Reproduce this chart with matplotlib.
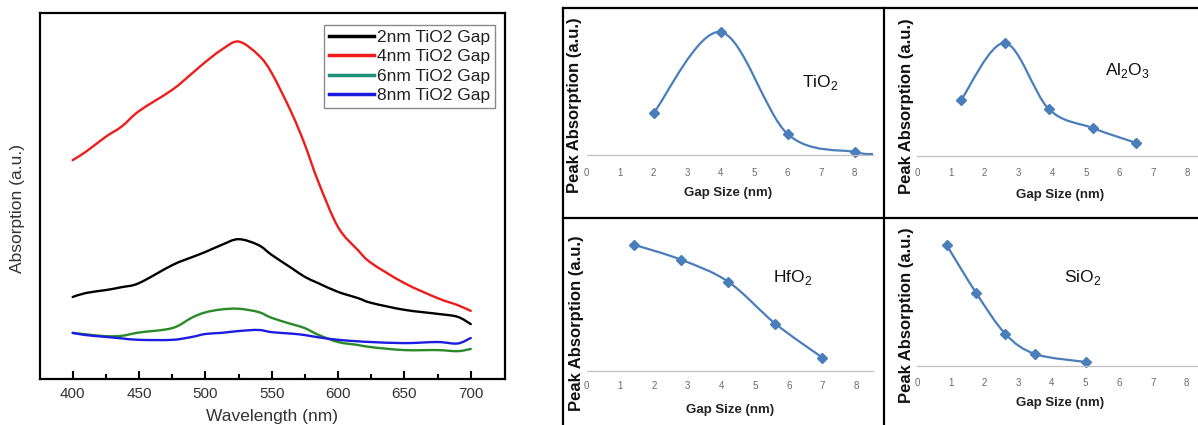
import numpy as np
import matplotlib
matplotlib.use("Agg")
import matplotlib.pyplot as plt
from matplotlib.path import Path
from matplotlib.patches import PathPatch
from matplotlib.lines import Line2D

plt.rcParams["font.family"] = ["Liberation Sans", "DejaVu Sans"]
plt.rcParams["mathtext.fontset"] = "custom"
plt.rcParams["mathtext.rm"] = "Liberation Sans"

W, H = 1198, 425

# ---- left panel: absorption spectra (a.u.) ----
wavelength = [400, 410, 425, 437, 450, 475, 490, 500, 512, 525, 540, 550, 565,
              575, 585, 600, 615, 625, 650, 675, 690, 700]
abs_2nm = [0.224, 0.235, 0.243, 0.251, 0.262, 0.311, 0.333, 0.347, 0.366, 0.382,
           0.366, 0.339, 0.303, 0.279, 0.262, 0.238, 0.221, 0.208, 0.189, 0.178,
           0.170, 0.150]
abs_4nm = [0.598, 0.621, 0.662, 0.690, 0.732, 0.790, 0.835, 0.866, 0.899, 0.922,
           0.885, 0.836, 0.727, 0.640, 0.540, 0.415, 0.352, 0.317, 0.262, 0.221,
           0.202, 0.186]
abs_6nm = [0.126, 0.122, 0.117, 0.118, 0.127, 0.139, 0.168, 0.182, 0.190, 0.192,
           0.183, 0.167, 0.150, 0.139, 0.121, 0.101, 0.093, 0.087, 0.079, 0.079,
           0.076, 0.082]
abs_8nm = [0.126, 0.120, 0.115, 0.111, 0.107, 0.107, 0.115, 0.123, 0.126, 0.131,
           0.134, 0.128, 0.124, 0.120, 0.114, 0.107, 0.103, 0.101, 0.098, 0.101,
           0.097, 0.112]
spectra_labels = ["2nm TiO2 Gap", "4nm TiO2 Gap", "6nm TiO2 Gap", "8nm TiO2 Gap"]
spectra_colors = ["#000000", "#f01c1c", "#2a8a2a", "#1c1ce0"]
legend_colors = ["#000000", "#f01c1c", "#1f907a", "#1c1ce0"]

# ---- right panels: peak absorption vs gap size ----
tio2_gap = [2, 4, 6, 8]
tio2_peak = [0.42, 1.23, 0.21, 0.03]
tio2_tail = (8.55, 0.01)          # curve runs on past the last marker
al2o3_gap = [1.3, 2.6, 3.9, 5.2, 6.5]
al2o3_peak = [0.56, 1.13, 0.47, 0.28, 0.13]
hfo2_gap = [1.4, 2.8, 4.2, 5.6, 7.0]
hfo2_peak = [1.26, 1.11, 0.89, 0.47, 0.13]
sio2_gap = [0.87, 1.75, 2.62, 3.5, 5.0]
sio2_peak = [1.21, 0.73, 0.32, 0.12, 0.04]
gap_ticks = list(range(0, 9))


def px_box(left, top, right, bottom):
    return [left / W, 1 - bottom / H, (right - left) / W, (bottom - top) / H]


def smooth_path(xs, ys):
    pts = np.column_stack([xs, ys]).astype(float)
    n = len(pts)
    verts, codes = [pts[0]], [Path.MOVETO]
    for i in range(n - 1):
        p0, p1 = pts[max(i - 1, 0)], pts[i]
        p2, p3 = pts[i + 1], pts[min(i + 2, n - 1)]
        verts += [p1 + (p2 - p0) / 6, p2 - (p3 - p1) / 6, p2]
        codes += [Path.CURVE4] * 3
    return Path(verts, codes)


def add_curve(ax, xs, ys, color, lw):
    ax.add_patch(PathPatch(smooth_path(xs, ys), facecolor="none", edgecolor=color,
                           lw=lw, capstyle="round", joinstyle="round"))


fig = plt.figure(figsize=(W / 100, H / 100), dpi=100)

ax = fig.add_axes(px_box(40, 13, 505, 379))
for ys, c in zip([abs_2nm, abs_4nm, abs_6nm, abs_8nm], spectra_colors):
    add_curve(ax, wavelength, ys, c, 1.7)
ax.set_xlim(375.4, 725.8)
ax.set_ylim(0, 1)
ax.set_xticks(range(400, 701, 50))
ax.set_xticks(range(425, 700, 50), minor=True)
ax.set_yticks([])
ax.tick_params(axis="x", which="major", direction="in", length=6, width=1.5,
               labelsize=11, labelcolor="#333333", pad=6)
ax.tick_params(axis="x", which="minor", direction="in", length=3.5, width=1.5)
for s in ax.spines.values():
    s.set_linewidth(1.6)
ax.set_ylabel("Absorption (a.u.)", fontsize=12.5, color="#333333")
ax.yaxis.set_label_coords(-22 / 465, 0.467)
ax.yaxis.label.set_va("center")
ax.set_xlabel("Wavelength (nm)", fontsize=12.5, color="#333333")
ax.xaxis.set_label_coords(0.5, -0.081)
ax.xaxis.label.set_va("top")
handles = [Line2D([], [], color=c, lw=2.5) for c in legend_colors]
leg = ax.legend(handles, spectra_labels, loc="upper right", bbox_to_anchor=(0.978, 0.966),
                fontsize=12.5, handlelength=2.6, handletextpad=0.2, labelspacing=0.25,
                borderpad=0.25, borderaxespad=0, fancybox=False, framealpha=1)
leg.get_frame().set_edgecolor("#8a8a8a")
leg.get_frame().set_linewidth(1.0)
for t in leg.get_texts():
    t.set_color("#222222")

blue = "#4a7ebb"
panels = [
    # gap, peak, tail, box(px), xlim, ylim, name, name pos, ylabel pos, xlabel pos, tick pad
    (tio2_gap, tio2_peak, tio2_tail, (586.7, 20, 873, 155), 8.55, 1.35,
     r"TiO$_\mathregular{2}$", (0.815, 0.54), (-0.041, 0.37), (0.494, -0.281), 9),
    (al2o3_gap, al2o3_peak, None, (917.3, 20, 1198, 156), 8.33, 1.36,
     r"Al$_\mathregular{2}$O$_\mathregular{3}$", (0.747, 0.632), (-0.037, 0.368), (0.508, -0.287), 9),
    (hfo2_gap, hfo2_peak, None, (586.7, 235, 873, 370.7), 8.5, 1.357,
     r"HfO$_\mathregular{2}$", (0.72, 0.69), (-0.037, 0.35), (0.50, -0.29), 7.5),
    (sio2_gap, sio2_peak, None, (917.3, 230, 1198, 366), 8.34, 1.36,
     r"SiO$_\mathregular{2}$", (0.59, 0.654), (-0.037, 0.375), (0.508, -0.272), 9),
]
for gx, gy, tail, box, xmax, ymax, name, npos, ylpos, xlpos, pad in panels:
    a = fig.add_axes(px_box(*box))
    cx, cy = list(gx), list(gy)
    if tail is not None:
        cx.append(tail[0])
        cy.append(tail[1])
    add_curve(a, cx, cy, blue, 1.6)
    a.plot(gx, gy, linestyle="none", marker="D", markersize=5.5, color=blue, clip_on=False)
    a.set_xlim(0, xmax)
    a.set_ylim(0, ymax)
    a.set_xticks(gap_ticks)
    a.set_yticks([])
    a.tick_params(axis="x", length=0, labelsize=7, labelcolor="#6a6a6a", pad=pad)
    for k in ["top", "right", "left"]:
        a.spines[k].set_visible(False)
    a.spines["bottom"].set_color("#c0c0c0")
    a.spines["bottom"].set_linewidth(0.9)
    a.set_ylabel("Peak Absorption (a.u.)", fontsize=12, fontweight="bold", color="#111111")
    a.yaxis.set_label_coords(*ylpos)
    a.yaxis.label.set_va("center")
    a.set_xlabel("Gap Size (nm)", fontsize=9.5, fontweight="bold", color="#222222")
    a.xaxis.set_label_coords(*xlpos)
    a.xaxis.label.set_va("center")
    a.text(npos[0], npos[1], name, transform=a.transAxes, fontsize=12.5,
           ha="center", va="center", color="#111111")
    a.patch.set_alpha(0)

# black frame around the four small panels
frame = dict(color="black", lw=1.6, transform=fig.transFigure)
fig.add_artist(Line2D([563 / W, 1], [1 - 8 / H] * 2, **frame))
fig.add_artist(Line2D([563 / W, 1], [1 - 218 / H] * 2, **frame))
fig.add_artist(Line2D([563 / W] * 2, [0, 1 - 8 / H], **frame))
fig.add_artist(Line2D([884 / W] * 2, [0, 1 - 8 / H], **frame))

fig.savefig("out.png", dpi=100)
